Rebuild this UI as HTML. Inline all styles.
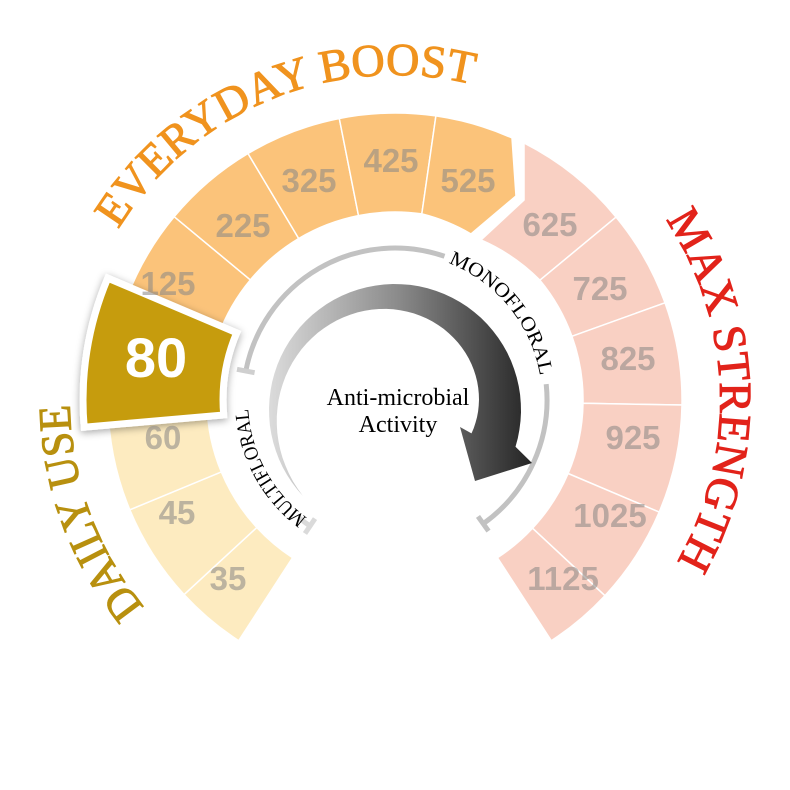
<!DOCTYPE html>
<html><head><meta charset="utf-8"><style>
html,body{margin:0;padding:0;background:#fff;}
svg{display:block;}
.num{font-family:"Liberation Sans",sans-serif;font-weight:bold;font-size:33px;fill:#8e8a86;fill-opacity:.58;text-anchor:middle;}
.ttl{font-family:"Liberation Serif",serif;font-size:46px;stroke-width:1;}
.sm{font-family:"Liberation Serif",serif;font-size:20px;fill:#000;}
</style></head><body>
<svg id="s" width="790" height="790" viewBox="0 0 790 790" xmlns="http://www.w3.org/2000/svg">
<defs>
<linearGradient id="ag" x1="268" y1="0" x2="530" y2="0" gradientUnits="userSpaceOnUse">
<stop offset="0" stop-color="#dcdcdc"/><stop offset="0.5" stop-color="#8a8a8a"/><stop offset="1" stop-color="#262626"/></linearGradient>
<filter id="sh" x="-30%" y="-30%" width="160%" height="160%"><feDropShadow dx="0" dy="2" stdDeviation="4" flood-color="#000" flood-opacity=".35"/></filter>
<path id="c325" d="M395,725 A325,325 0 1 1 395,75 A325,325 0 1 1 395,725"/>
<path id="c147" d="M395,547 A147,147 0 1 1 395,253 A147,147 0 1 1 395,547"/>
</defs>
<g id="segs" stroke="#fff" stroke-width="1.5"></g>
<g id="rings" fill="none" stroke="#c2c2c2" stroke-width="5"></g>
<path id="arrow" fill="url(#ag)"/>
<path id="p80" fill="#c69c0c" stroke="#fff" stroke-width="7" stroke-linejoin="miter" filter="url(#sh)"/>

<text class="num" x="228" y="590">35</text>
<text class="num" x="177" y="524">45</text>
<text class="num" x="163" y="449">60</text>
<text class="num" x="168" y="295">125</text>
<text class="num" x="243" y="237">225</text>
<text class="num" x="309" y="192">325</text>
<text class="num" x="391" y="172">425</text>
<text class="num" x="468" y="192">525</text>
<text class="num" x="550" y="236">625</text>
<text class="num" x="600" y="300">725</text>
<text class="num" x="628" y="370">825</text>
<text class="num" x="633" y="449">925</text>
<text class="num" x="610" y="527">1025</text>
<text class="num" x="563" y="590">1125</text>

<text x="156" y="377" style="font-family:'Liberation Sans',sans-serif;font-weight:bold;font-size:56px;fill:#fff;text-anchor:middle">80</text>

<text class="ttl" fill="#f0931e" stroke="#f0931e"><textPath href="#c325" startOffset="690" textLength="409" lengthAdjust="spacingAndGlyphs">EVERYDAY BOOST</textPath></text>
<text class="ttl" fill="#b8900f" stroke="#b8900f"><textPath href="#c325" startOffset="286" textLength="220" lengthAdjust="spacingAndGlyphs">DAILY USE</textPath></text>
<text class="ttl" fill="#e2231a" stroke="#e2231a"><textPath href="#c325" startOffset="1340" textLength="361" lengthAdjust="spacingAndGlyphs">MAX STRENGTH</textPath></text>

<text class="sm"><textPath href="#c147" startOffset="516" textLength="152" lengthAdjust="spacingAndGlyphs">MONOFLORAL</textPath></text>
<text class="sm"><textPath href="#c147" startOffset="94" textLength="128" lengthAdjust="spacingAndGlyphs">MULTIFLORAL</textPath></text>

<text x="398" y="405" style="font-family:'Liberation Serif',serif;font-size:24px;fill:#000;text-anchor:middle">Anti-microbial</text>
<text x="398" y="432" style="font-family:'Liberation Serif',serif;font-size:24px;fill:#000;text-anchor:middle">Activity</text>
</svg>
<script>
(function(){
var cx=395,cy=400,R=(Math.PI/180);
function pt(r,a,ox,oy){ox=ox||cx;oy=oy||cy;return [ox+r*Math.sin(a*R),oy-r*Math.cos(a*R)];}
function f(p){return p[0].toFixed(1)+','+p[1].toFixed(1);}
function sector(r1,r2,a1,a2){
 var lg=(a2-a1)>180?1:0;
 return 'M'+f(pt(r2,a1))+' A'+r2+','+r2+' 0 '+lg+' 1 '+f(pt(r2,a2))+' L'+f(pt(r1,a2))+' A'+r1+','+r1+' 0 '+lg+' 0 '+f(pt(r1,a1))+'Z';
}
var NS='http://www.w3.org/2000/svg';
var segs=document.getElementById('segs');
function add(d,fill){var p=document.createElementNS(NS,'path');p.setAttribute('d',d);p.setAttribute('fill',fill);segs.appendChild(p);}
var ri=188,ro=287;
var Y='#fdebc0',O='#fbc37a',P='#f9d0c3';
add(sector(ri,ro,-147,-132.7),Y);
add(sector(ri,ro,-132.7,-112.5),Y);
add(sector(ri,ro,-112.5,-91),Y);
add(sector(ri,ro,-91,-70),O);
add(sector(ri,ro,-70,-50.3),O);
add(sector(ri,ro,-50.3,-30.8),O);
add(sector(ri,ro,-30.8,-11.2),O);
add(sector(ri,ro,-11.2,8.2),O);
var a=pt(ro,8.2),b=pt(ri,8.2);
add('M'+f(a)+' A'+ro+','+ro+' 0 0 1 512,138 L516,196 L471,234 A'+ri+','+ri+' 0 0 0 '+f(b)+'Z',O);
var c=pt(ro,50.4),d=pt(ri,50.4);
add('M524,143 A'+ro+','+ro+' 0 0 1 '+f(c)+' L'+f(d)+' A'+ri+','+ri+' 0 0 0 481,240 L524,200Z',P);
add(sector(ri,ro,50.4,70.2),P);
add(sector(ri,ro,70.2,91),P);
add(sector(ri,ro,91,113),P);
add(sector(ri,ro,113,133),P);
add(sector(ri,ro,133,147),P);
document.getElementById('p80').setAttribute('d',sector(172,312,-95,-67));
var rings=document.getElementById('rings');
function arc(r,a1,a2,col){var p=document.createElementNS(NS,'path');p.setAttribute('d','M'+f(pt(r,a1))+' A'+r+','+r+' 0 '+((a2-a1)>180?1:0)+' 1 '+f(pt(r,a2)));if(col)p.setAttribute('stroke',col);rings.appendChild(p);}
function tick(r,a,col){var p=document.createElementNS(NS,'path');p.setAttribute('d','M'+f(pt(r-9,a))+' L'+f(pt(r+9,a)));if(col)p.setAttribute('stroke',col);rings.appendChild(p);}
arc(152,-79,19);tick(152,-79,'#cfcfcf');
arc(152,84,144.5);tick(152,144.5);
arc(152,-146,-141,'#dadada');tick(152,-146,'#dadada');
var ax=395,ay=410,Ro=126,s=-133,e=107,pts=[],i,n=60;
function w(t){return 46*(t-s)/(e-s);}
for(i=0;i<=n;i++){var t=s+(e-s)*i/n;pts.push(f(pt(Ro,t,ax,ay)));}
pts.push('532,463','475,481','460,427');
for(i=n;i>=0;i--){var t=s+(e-s)*i/n;pts.push(f(pt(Ro-w(t),t,ax,ay)));}
document.getElementById('arrow').setAttribute('d','M'+pts.join(' L')+'Z');
})();
</script>
</body></html>
